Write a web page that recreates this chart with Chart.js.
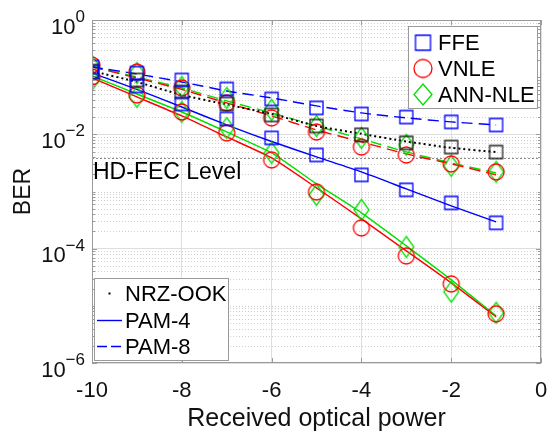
<!DOCTYPE html>
<html>
<head>
<meta charset="utf-8">
<script src="https://cdn.jsdelivr.net/npm/chart.js@4"></script>
<style>
  body { margin: 0; background: #fff; }
  #wrap { width: 550px; height: 434px; position: relative; }
</style>
</head>
<body>
<div id="wrap"><canvas id="berChart"></canvas></div>
<script>
const power = [-10, -9, -8, -7, -6, -5, -4, -3, -2, -1];

// measured BER (markers)
const nrzMeas = [0.128, 0.0893, 0.0551, 0.034, 0.0218, 0.014, 0.0098, 0.0071, 0.006, 0.0049];
const pam4FfeMeas = [0.123, 0.0702, 0.034, 0.0186, 0.00865, 0.00436, 0.00195, 0.00107, 0.000632, 0.000283];
const pam4VnleMeas = [0.1008, 0.0489, 0.0246, 0.0106, 0.00357, 0.000985, 0.000231, 7.48e-5, 2.42e-5, 7.24e-6];
const pam4AnnMeas = [0.0893, 0.0451, 0.0246, 0.0129, 0.00473, 0.000872, 0.000477, 0.000107, 1.76e-5, 7.55e-6];
const pam8FfeMeas = [0.151, 0.118, 0.0893, 0.0622, 0.0416, 0.029, 0.0227, 0.0201, 0.0165, 0.0146];
const pam8VnleMeas = [0.163, 0.123, 0.0647, 0.0354, 0.0194, 0.011, 0.006, 0.00436, 0.00304, 0.0022];
const pam8AnnMeas = [0.157, 0.118, 0.0674, 0.0433, 0.0267, 0.014, 0.00865, 0.00653, 0.0028, 0.0022];

// fitted curves (lines)
const nrzFit = [0.128, 0.0824, 0.0489, 0.0333, 0.0227, 0.014, 0.0102, 0.0075, 0.0058, 0.0049];
const pam4FfeFit = [0.118, 0.061, 0.0301, 0.0146, 0.0075, 0.00403, 0.0022, 0.00111, 0.00056, 0.000294];
const pam4VnleFit = [0.0968, 0.0451, 0.021, 0.00901, 0.00387, 0.00116, 0.000332, 9.16e-5, 2.52e-5, 6.42e-6];
const pam4AnnFit = [0.105, 0.0508, 0.0246, 0.011, 0.00473, 0.00136, 0.000423, 0.000112, 2.85e-5, 6.68e-6];
const pam8FfeFit = [0.151, 0.114, 0.0824, 0.0574, 0.0433, 0.0314, 0.0237, 0.0194, 0.0165, 0.0146];
const pam8VnleFit = [0.151, 0.0968, 0.061, 0.0354, 0.021, 0.0119, 0.00737, 0.00454, 0.00304, 0.00195];
const pam8AnnFit = [0.157, 0.1008, 0.0647, 0.0384, 0.0237, 0.014, 0.00831, 0.00492, 0.00316, 0.00211];

const xTicks = [-10, -8, -6, -4, -2, 0];
const xTickLabels = ['-10', '-8', '-6', '-4', '-2', '0'];
const yTicks = [1e-6, 1e-4, 1e-2, 1];
const yTickExp = ['\u22126', '\u22124', '\u22122', '0'];
const hdFec = 3.8e-3;

const FONT = '"Liberation Sans", Arial, sans-serif';
const BLUE = '#0000ff', RED = '#ff0000', GREEN = '#00e000', BLACK = '#000000';
const AXIS = '#9a9a9a';

function marker(shape, color, w, h) {
    const c = document.createElement('canvas');
    c.width = Math.ceil(w) + 4;
    c.height = Math.ceil(h) + 4;
    const g = c.getContext('2d');
    const cx = c.width / 2, cy = c.height / 2;
    g.strokeStyle = color;
    g.lineWidth = 1.3;
    g.beginPath();
    if (shape === 'square') {
        g.rect(cx - w / 2, cy - h / 2, w, h);
    } else if (shape === 'circle') {
        g.ellipse(cx, cy, w / 2, h / 2, 0, 0, Math.PI * 2);
    } else {
        g.moveTo(cx, cy - h / 2);
        g.lineTo(cx + w / 2, cy);
        g.lineTo(cx, cy + h / 2);
        g.lineTo(cx - w / 2, cy);
        g.closePath();
    }
    g.stroke();
    return c;
}

const icons = {
    sqBlue: marker('square', BLUE, 13, 13),
    sqBlack: marker('square', '#222', 13, 13),
    ciRed: marker('circle', RED, 16, 16),
    diGreen: marker('diamond', GREEN, 15, 21),
};

const pts = arr => power.map((p, i) => ({x: p, y: arr[i]}));

function fitLine(arr, color, dash, width) {
    return {
        data: pts(arr), borderColor: color, borderWidth: width || 1.4,
        borderDash: dash, pointRadius: 0, fill: false, tension: 0.2,
    };
}

function points(arr, icon) {
    return {
        data: pts(arr), showLine: false, pointStyle: icon,
        pointRadius: 8, borderColor: 'transparent',
    };
}

const dash8 = [11, 6];
const dots = [2, 3];

const datasets = [
    points(pam4FfeMeas, icons.sqBlue),
    points(pam8FfeMeas, icons.sqBlue),
    points(nrzMeas, icons.sqBlack),
    points(pam4VnleMeas, icons.ciRed),
    points(pam8VnleMeas, icons.ciRed),
    points(pam4AnnMeas, icons.diGreen),
    points(pam8AnnMeas, icons.diGreen),
    fitLine(nrzFit, BLACK, dots, 2),
    fitLine(pam8FfeFit, BLUE, dash8),
    fitLine(pam8VnleFit, RED, dash8),
    fitLine(pam8AnnFit, GREEN, dash8),
    fitLine(pam4FfeFit, BLUE, []),
    fitLine(pam4VnleFit, RED, []),
    fitLine(pam4AnnFit, GREEN, []),
];

function minorValues() {
    const out = [];
    for (let e = -6; e < 0; e++) {
        for (let m = 1; m <= 9; m++) {
            if (m === 1 && e % 2 === 0) continue;
            out.push(m * Math.pow(10, e));
        }
    }
    return out;
}

const decorations = {
    id: 'decorations',
    beforeDatasetsDraw(chart) {
        const {ctx, chartArea: a, scales: {y}} = chart;
        ctx.save();
        // minor grid (dotted)
        ctx.strokeStyle = '#cfcfcf';
        ctx.lineWidth = 1;
        ctx.setLineDash([1, 2]);
        minorValues().forEach(v => {
            const py = Math.round(y.getPixelForValue(v)) + 0.5;
            ctx.beginPath();
            ctx.moveTo(a.left, py);
            ctx.lineTo(a.right, py);
            ctx.stroke();
        });
        // HD-FEC threshold
        ctx.strokeStyle = '#8a8a8a';
        ctx.setLineDash([2, 2]);
        const fy = Math.round(y.getPixelForValue(hdFec)) + 0.5;
        ctx.beginPath();
        ctx.moveTo(a.left, fy);
        ctx.lineTo(a.right, fy);
        ctx.stroke();
        ctx.restore();
    },
    afterDatasetsDraw(chart) {
        const {ctx, chartArea: a, scales: {x, y}} = chart;
        ctx.save();
        ctx.setLineDash([]);
        // axes box
        ctx.strokeStyle = AXIS;
        ctx.lineWidth = 1;
        ctx.strokeRect(a.left + 0.5, a.top + 0.5, a.right - a.left - 1, a.bottom - a.top - 1);
        // tick marks
        ctx.beginPath();
        xTicks.forEach(v => {
            const px = Math.round(x.getPixelForValue(v)) + 0.5;
            ctx.moveTo(px, a.bottom); ctx.lineTo(px, a.bottom - 5);
            ctx.moveTo(px, a.top); ctx.lineTo(px, a.top + 5);
        });
        yTicks.forEach(v => {
            const py = Math.round(y.getPixelForValue(v)) + 0.5;
            ctx.moveTo(a.left, py); ctx.lineTo(a.left + 5, py);
            ctx.moveTo(a.right, py); ctx.lineTo(a.right - 5, py);
        });
        minorValues().forEach(v => {
            const py = Math.round(y.getPixelForValue(v)) + 0.5;
            ctx.moveTo(a.left, py); ctx.lineTo(a.left + 3, py);
            ctx.moveTo(a.right, py); ctx.lineTo(a.right - 3, py);
        });
        ctx.stroke();

        // tick labels
        ctx.fillStyle = '#111';
        ctx.textBaseline = 'alphabetic';
        ctx.font = '22px ' + FONT;
        ctx.textAlign = 'center';
        xTicks.forEach((v, i) => {
            ctx.fillText(xTickLabels[i], x.getPixelForValue(v), 397);
        });
        yTicks.forEach((v, i) => {
            const py = y.getPixelForValue(v);
            ctx.font = '17px ' + FONT;
            const sw = ctx.measureText(yTickExp[i]).width;
            ctx.textAlign = 'left';
            ctx.fillText(yTickExp[i], 85 - sw, py + 2);
            ctx.font = '22px ' + FONT;
            ctx.textAlign = 'right';
            ctx.fillText('10', 85 - sw, py + 13.5);
        });

        // axis titles
        ctx.textAlign = 'center';
        ctx.font = '25px ' + FONT;
        ctx.fillText('Received optical power', (a.left + a.right) / 2, 426);
        ctx.save();
        ctx.translate(30, (a.top + a.bottom) / 2);
        ctx.rotate(-Math.PI / 2);
        ctx.font = '23px ' + FONT;
        ctx.fillText('BER', 0, 0);
        ctx.restore();

        // threshold label
        ctx.textAlign = 'left';
        ctx.font = '23px ' + FONT;
        ctx.fillStyle = '#000';
        ctx.fillText('HD-FEC Level', a.left + 1, 178.5);

        // legend: equalizers
        ctx.font = '22px ' + FONT;
        ctx.fillStyle = '#fff';
        ctx.fillRect(408, 26, 129, 82);
        ctx.strokeStyle = AXIS;
        ctx.strokeRect(408.5, 26.5, 129, 82);
        const big = {
            FFE: marker('square', BLUE, 15, 15),
            VNLE: marker('circle', RED, 18, 18),
            'ANN-NLE': marker('diamond', GREEN, 18, 21),
        };
        const eqRows = [['FFE', 42.7], ['VNLE', 68.5], ['ANN-NLE', 94.5]];
        ctx.fillStyle = '#000';
        eqRows.forEach(([name, cy]) => {
            const ic = big[name];
            ctx.drawImage(ic, 423 - ic.width / 2, cy - ic.height / 2);
            ctx.fillText(name, 438, cy + 7.5);
        });

        // legend: modulation formats
        ctx.fillStyle = '#fff';
        ctx.fillRect(94, 278, 134, 82);
        ctx.strokeStyle = AXIS;
        ctx.strokeRect(94.5, 278.5, 134, 82);
        ctx.fillStyle = '#000';
        ctx.fillRect(108.5, 292.5, 2, 2);
        ctx.lineWidth = 1.4;
        ctx.strokeStyle = BLUE;
        ctx.beginPath();
        ctx.moveTo(97, 320.5); ctx.lineTo(122, 320.5);
        ctx.stroke();
        ctx.setLineDash([10, 4]);
        ctx.beginPath();
        ctx.moveTo(97, 346.5); ctx.lineTo(122, 346.5);
        ctx.stroke();
        ctx.setLineDash([]);
        ctx.fillStyle = '#000';
        ctx.fillText('NRZ-OOK', 125, 301);
        ctx.fillText('PAM-4', 125, 327.5);
        ctx.fillText('PAM-8', 125, 353.5);
        ctx.restore();
    }
};

new Chart(document.getElementById('berChart'), {
    type: 'line',
    data: {datasets},
    options: {
        responsive: true,
        maintainAspectRatio: false,
        animation: false,
        layout: {padding: {top: 20, right: 7, left: 0, bottom: 0}},
        plugins: {legend: {display: false}, tooltip: {enabled: false}},
        scales: {
            x: {
                type: 'linear', min: -10, max: 0,
                afterBuildTicks: s => { s.ticks = xTicks.map(v => ({value: v})); },
                afterFit: s => { s.height = 71; },
                ticks: {display: false},
                grid: {color: '#dedede', drawTicks: false},
                border: {display: false},
            },
            y: {
                type: 'logarithmic', min: 1e-6, max: 1,
                afterBuildTicks: s => { s.ticks = yTicks.map(v => ({value: v})); },
                afterFit: s => { s.width = 92; },
                ticks: {display: false},
                grid: {color: '#dedede', drawTicks: false},
                border: {display: false},
            }
        }
    },
    plugins: [decorations]
});
</script>
</body>
</html>
